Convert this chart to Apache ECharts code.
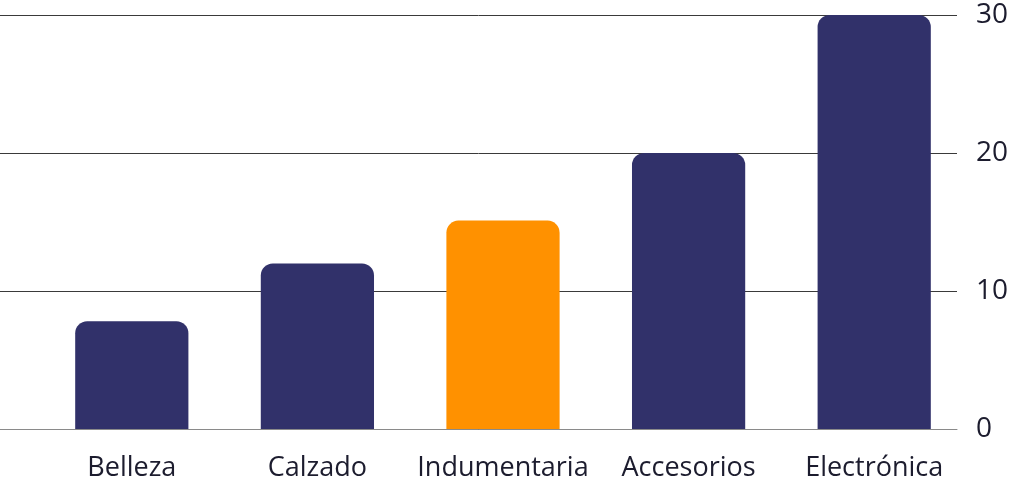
<!DOCTYPE html>
<html>
<head>
<meta charset="utf-8">
<script src="https://cdn.jsdelivr.net/npm/echarts@6/dist/echarts.min.js"></script>
<style>
html, body { margin: 0; padding: 0; background: #fff; }
#chart { width: 1024px; height: 491px; }
</style>
</head>
<body>
<div id="chart"></div>
<script>
var categories = ['Belleza', 'Calzado', 'Indumentaria', 'Accesorios', 'Electrónica'];
var values = [7.8, 12, 15.1, 20, 30];
var highlightIndex = 2;
var yTicks = [0, 10, 20, 30];

var navy = '#31316a';
var orange = '#ff9100';
var font = '"Open Sans"';

var chart = echarts.init(document.getElementById('chart'));

var barData = values.map(function (v, i) {
    return {
        value: v,
        itemStyle: { color: i === highlightIndex ? orange : navy }
    };
});

var option = {
    backgroundColor: '#fff',
    animation: false,
    grid: [
        // grid for the lines and value labels
        { left: 0, right: 67, top: 15, bottom: 62 },
        // grid for the bars
        { left: 39, right: 57, top: 15, bottom: 62 }
    ],
    xAxis: [
        {
            gridIndex: 0,
            type: 'category',
            data: categories,
            axisLine: { show: true, lineStyle: { color: '#8a8a8a', width: 1 } },
            axisTick: { show: false },
            axisLabel: { show: false }
        },
        {
            gridIndex: 1,
            type: 'category',
            data: categories,
            axisLine: { show: false },
            axisTick: { show: false },
            axisLabel: {
                interval: 0,
                color: '#1c1c2e',
                fontFamily: font,
                fontSize: 27,
                margin: 26
            }
        }
    ],
    yAxis: [
        {
            gridIndex: 0,
            type: 'value',
            position: 'right',
            min: yTicks[0],
            max: yTicks[yTicks.length - 1],
            interval: 10,
            axisLine: { show: false },
            axisTick: { show: false },
            splitLine: { lineStyle: { color: '#3a3a3a', width: 1 } },
            axisLabel: {
                color: '#1c1c2e',
                fontFamily: font,
                fontSize: 28,
                margin: 19,
                padding: [6, 0, 0, 0]
            }
        },
        {
            gridIndex: 1,
            type: 'value',
            min: yTicks[0],
            max: yTicks[yTicks.length - 1],
            show: false
        }
    ],
    series: [{
        type: 'bar',
        xAxisIndex: 1,
        yAxisIndex: 1,
        barWidth: '61%',
        data: barData,
        itemStyle: { borderRadius: [12, 12, 0, 0] }
    }]
};

chart.setOption(option);
</script>
</body>
</html>
